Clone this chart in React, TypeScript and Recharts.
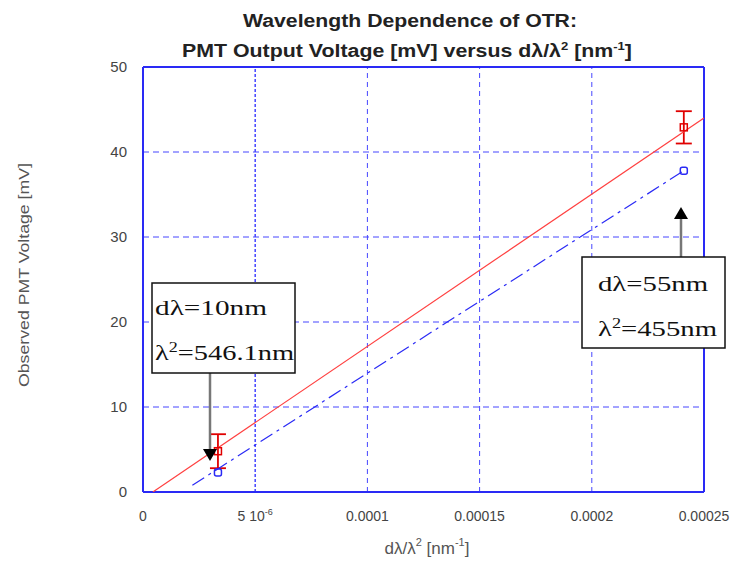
import React from 'react';
import {
  ComposedChart,
  Scatter,
  XAxis,
  YAxis,
  CartesianGrid,
  ErrorBar,
  ReferenceLine,
} from 'recharts';

// axis ticks
const xTicks = [0, 0.00005, 0.0001, 0.00015, 0.0002, 0.00025];
const xTickLabels = ['0', '5 10', '0.0001', '0.00015', '0.0002', '0.00025'];
const yTicks = [0, 10, 20, 30, 40, 50];

// measured points (dλ/λ², mV)
const redPoints = [
  { x: 0.0000334, y: 4.8, err: 2 },
  { x: 0.000241, y: 42.9, err: 1.9 },
];
const bluePoints = [
  { x: 0.0000334, y: 2.3 },
  { x: 0.000241, y: 37.8 },
];

// fitted lines
const redFit = [
  { x: 0.0000044, y: 0 },
  { x: 0.00025, y: 44 },
];
const blueFit = [
  { x: 0.000022, y: 0.8 },
  { x: 0.000241, y: 37.8 },
];

const BLUE = '#2a2af5';
const GRID = '#4646ff';
const SANS = 'Arial, "Liberation Sans", sans-serif';
const SERIF = '"Times New Roman", "Liberation Serif", serif';

const XTick = (props: any) => {
  const { x, y, payload } = props;
  const i = xTicks.indexOf(payload.value);
  const label = i >= 0 ? xTickLabels[i] : String(payload.value);
  return (
    <text x={x} y={y} dy="0.71em" textAnchor="middle" fill="#444" fontSize={14} fontFamily={SANS}>
      {label}
      {payload.value === 0.00005 && (
        <tspan dy={-6} fontSize={9}>
          -6
        </tspan>
      )}
    </text>
  );
};

const RedSquare = (props: any) => {
  const { cx, cy } = props;
  return <rect x={cx - 3.5} y={cy - 3.5} width={7} height={7} fill="none" stroke="#e00000" strokeWidth={1.5} />;
};

const BlueSquare = (props: any) => {
  const { cx, cy } = props;
  return <rect x={cx - 3.5} y={cy - 3.5} width={7} height={7} rx={2} fill="none" stroke={BLUE} strokeWidth={1.5} />;
};

const NoDot = () => <g />;

export default function App() {
  return (
    <div style={{ position: 'absolute', left: 0, top: 0, width: 742, height: 567, background: '#fff' }}>
      <ComposedChart width={742} height={567} margin={{ top: 67, right: 38, bottom: 0, left: 0 }}>
        <CartesianGrid vertical={false} stroke={GRID} strokeDasharray="6 4" />
        {xTicks.slice(1, -1).map((t) => (
          <ReferenceLine
            key={t}
            x={t}
            stroke={GRID}
            strokeDasharray={t === 0.00005 ? '3 2' : '5 4'}
            strokeWidth={t === 0.00005 ? 1.5 : 1}
          />
        ))}
        <XAxis
          type="number"
          dataKey="x"
          domain={[0, 0.00025]}
          ticks={xTicks}
          height={75}
          tickSize={0}
          tickMargin={19}
          tick={<XTick />}
          axisLine={{ stroke: BLUE, strokeWidth: 2 }}
          allowDataOverflow
        />
        <YAxis
          type="number"
          dataKey="y"
          domain={[0, 50]}
          ticks={yTicks}
          width={143}
          tickSize={0}
          tickMargin={16}
          tick={{ fill: '#444', fontSize: 15, fontFamily: SANS }}
          axisLine={{ stroke: BLUE, strokeWidth: 2 }}
          allowDataOverflow
        />
        <ReferenceLine y={50} stroke={BLUE} strokeWidth={2} />
        <ReferenceLine x={0.00025} stroke={BLUE} strokeWidth={2} />
        <Scatter
          data={redFit}
          line={{ stroke: '#ff4040', strokeWidth: 1.2 }}
          shape={<NoDot />}
          isAnimationActive={false}
        />
        <Scatter
          data={blueFit}
          line={{ stroke: BLUE, strokeWidth: 1.2, strokeDasharray: '14 5 3 5' }}
          shape={<NoDot />}
          isAnimationActive={false}
        />
        <Scatter data={redPoints} shape={<RedSquare />} isAnimationActive={false}>
          <ErrorBar dataKey="err" direction="y" width={8} stroke="#e00000" strokeWidth={1.8} />
        </Scatter>
        <Scatter data={bluePoints} shape={<BlueSquare />} isAnimationActive={false} />
      </ComposedChart>

      <svg
        width={742}
        height={567}
        style={{ position: 'absolute', left: 0, top: 0, pointerEvents: 'none' }}
      >
        <g fontFamily={SANS} fontWeight="bold" fill="#222" fontSize={18} textAnchor="middle">
          <text x={410} y={27} textLength={334} lengthAdjust="spacingAndGlyphs">
            Wavelength Dependence of OTR:
          </text>
          <text x={407} y={57} textLength={450} lengthAdjust="spacingAndGlyphs">
            PMT Output Voltage [mV] versus dλ/λ
            <tspan dy={-7} fontSize={11}>2</tspan>
            <tspan dy={7}> [nm</tspan>
            <tspan dy={-7} fontSize={11}>-1</tspan>
            <tspan dy={7}>]</tspan>
          </text>
        </g>

        <text
          transform="translate(29 275) rotate(-90)"
          textAnchor="middle"
          fontFamily={SANS}
          fontSize={14}
          fill="#555"
          textLength={224}
          lengthAdjust="spacingAndGlyphs"
        >
          Observed PMT Voltage [mV]
        </text>

        <text x={427} y={554} textAnchor="middle" fontFamily={SANS} fontSize={17} fill="#555">
          dλ/λ
          <tspan dy={-8} fontSize={11}>2</tspan>
          <tspan dy={8}> [nm</tspan>
          <tspan dy={-8} fontSize={11}>-1</tspan>
          <tspan dy={8}>]</tspan>
        </text>

        {/* left annotation */}
        <line x1={210} y1={373} x2={210} y2={449} stroke="#777" strokeWidth={2.5} />
        <polygon points="203,449 217,449 210,461" fill="#000" />
        <rect x={152} y={283} width={143} height={90} fill="#fff" stroke="#111" strokeWidth={1.5} />
        <g fontFamily={SERIF} fontSize={22} fill="#111">
          <text x={155} y={315} textLength={112} lengthAdjust="spacingAndGlyphs">dλ=10nm</text>
          <text x={155} y={360} textLength={139} lengthAdjust="spacingAndGlyphs">
            λ<tspan dy={-8} fontSize={14}>2</tspan>
            <tspan dy={8}>=546.1nm</tspan>
          </text>
        </g>

        {/* right annotation */}
        <line x1={681} y1={257} x2={681} y2={219} stroke="#777" strokeWidth={2.5} />
        <polygon points="674,219 688,219 681,207" fill="#000" />
        <rect x={582} y={257} width={143} height={91} fill="#fff" stroke="#111" strokeWidth={1.5} />
        <g fontFamily={SERIF} fontSize={22} fill="#111">
          <text x={598} y={291} textLength={110} lengthAdjust="spacingAndGlyphs">dλ=55nm</text>
          <text x={598} y={336} textLength={119} lengthAdjust="spacingAndGlyphs">
            λ<tspan dy={-8} fontSize={14}>2</tspan>
            <tspan dy={8}>=455nm</tspan>
          </text>
        </g>
      </svg>
    </div>
  );
}
